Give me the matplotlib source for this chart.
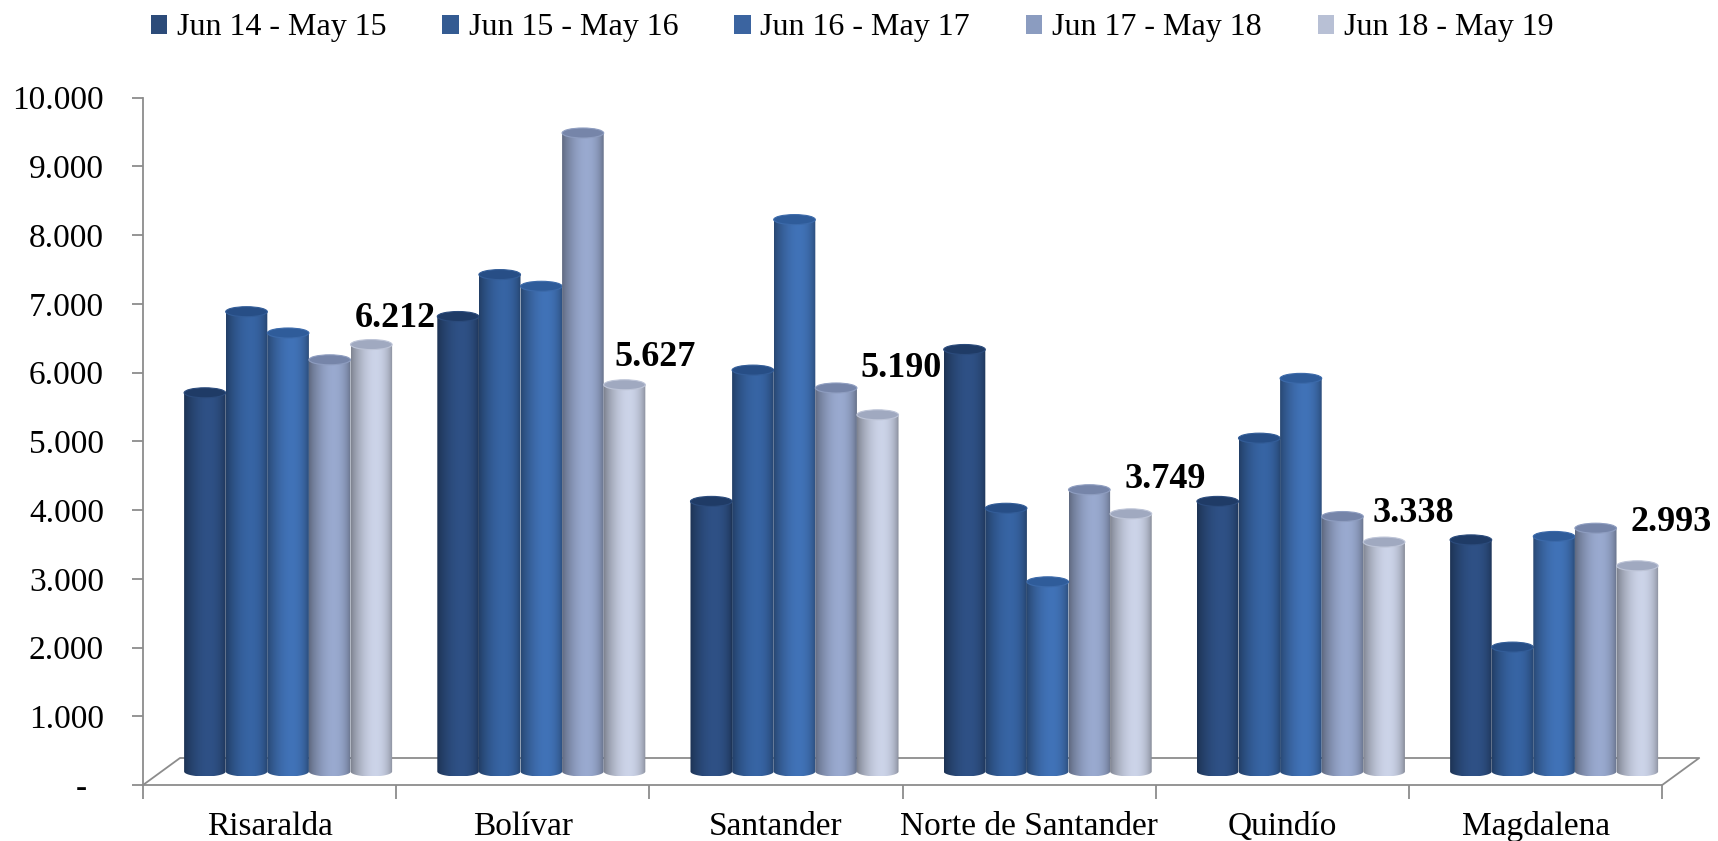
import numpy as np
import matplotlib
matplotlib.use("Agg")
import matplotlib.pyplot as plt
from matplotlib.patches import Ellipse, PathPatch, Patch
from matplotlib.path import Path
from matplotlib.ticker import FuncFormatter, FixedLocator

plt.rcParams['font.family'] = ['Liberation Serif', 'DejaVu Serif']

departments = ["Risaralda", "Bolívar", "Santander", "Norte de Santander", "Quindío", "Magdalena"]
periods = ["Jun 14 - May 15", "Jun 15 - May 16", "Jun 16 - May 17", "Jun 17 - May 18", "Jun 18 - May 19"]

jun14_may15 = [5510, 6620, 3930, 6140, 3930, 3370]
jun15_may16 = [6690, 7230, 5840, 3830, 4850, 1810]
jun16_may17 = [6380, 7060, 8030, 2760, 5720, 3420]
jun17_may18 = [5990, 9290, 5580, 4100, 3710, 3540]
jun18_may19 = [6212, 5627, 5190, 3749, 3338, 2993]
series = [jun14_may15, jun15_may16, jun16_may17, jun17_may18, jun18_may19]

body_colors = ["#2B4B7C", "#335D98", "#3C6AAA", "#8E9DC0", "#BDC4D7"]
top_colors = ["#1F3B66", "#274E86", "#2F5C9A", "#7685A9", "#A0A9C0"]
legend_colors = ["#2C4B79", "#345B92", "#3B64A0", "#8B9CC0", "#B8C0D5"]

# pixel offsets of the value labels from the top of the last cylinder
label_offsets = [(24, 26), (31, 27), (23, 46), (34, 34), (29, 29), (34, 43)]

W, H = 1718, 841
fig = plt.figure(figsize=(W / 100, H / 100), dpi=100)
fig.patch.set_facecolor("white")

left_px, front_px, px_per_cat, px_per_1000 = 143, 785, 253.2, 68.73
ax = fig.add_axes([left_px / W, (H - front_px) / H, 1 - left_px / W, front_px / H])
ax.set_facecolor("none")
xmax = (W - left_px) / px_per_cat
ymax = front_px / px_per_1000 * 1000

# floor depth in data units
depth_x = 37 / px_per_cat
depth_y = 27 / px_per_1000 * 1000
mid_x, mid_y = depth_x / 2, depth_y / 2

grey = "#8C8C8C"
ax.plot([0, depth_x, 6 + depth_x, 6], [0, depth_y, depth_y, 0],
        color=grey, lw=1.3, clip_on=False, zorder=1)

n = len(series)
bar_w = 41.6 / px_per_cat
pad = (1 - n * bar_w) / 2
ell_h = 10 / px_per_1000 * 1000

t = np.linspace(0, 1, 200)
shade = 0.66 + 0.42 * np.sin(np.pi * t ** 1.3) ** 0.6


def cylinder(x0, value, body, top, z):
    base = mid_y
    top_y = base + value
    cx = x0 + bar_w / 2
    a, b = bar_w / 2, ell_h / 2
    ang = np.linspace(np.pi, 2 * np.pi, 40)
    arc = np.column_stack([cx + a * np.cos(ang), base + b * np.sin(ang)])
    verts = np.vstack([[x0, top_y], [x0, base], arc, [x0 + bar_w, base], [x0 + bar_w, top_y], [x0, top_y]])
    codes = [Path.MOVETO] + [Path.LINETO] * (len(verts) - 2) + [Path.CLOSEPOLY]
    clip = PathPatch(Path(verts, codes), facecolor="none", edgecolor="none", transform=ax.transData)
    ax.add_patch(clip)
    rgb = np.array(matplotlib.colors.to_rgb(body))
    grad = np.clip(rgb[None, :] * shade[:, None], 0, 1)[None, :, :]
    im = ax.imshow(grad, extent=(x0, x0 + bar_w, base - b, top_y), aspect="auto",
                   interpolation="bilinear", zorder=z, clip_on=True)
    im.set_clip_path(clip)
    ax.add_patch(Ellipse((cx, top_y), bar_w, ell_h, facecolor=top, edgecolor=body,
                         lw=0.8, zorder=z + 0.5))
    return cx, top_y


for ci, dep in enumerate(departments):
    for si in range(n):
        x0 = ci + mid_x + pad + si * bar_w
        cx, ty = cylinder(x0, series[si][ci], body_colors[si], top_colors[si], 2 + si)
        if si == n - 1:
            v = series[si][ci]
            ax.annotate(f"{v:,}".replace(",", "."), (cx, ty), xytext=label_offsets[ci],
                        textcoords="offset pixels", ha="center", va="center",
                        fontsize=26, fontweight="bold", zorder=20, annotation_clip=False)

ax.set_xlim(0, xmax)
ax.set_ylim(0, ymax)

for side in ["top", "right"]:
    ax.spines[side].set_visible(False)
for side in ["left", "bottom"]:
    ax.spines[side].set_color(grey)
    ax.spines[side].set_linewidth(1.3)
ax.spines["left"].set_bounds(0, 10000)
ax.spines["bottom"].set_bounds(0, 6)

ax.set_yticks(np.arange(0, 10001, 1000))
ax.yaxis.set_major_formatter(FuncFormatter(
    lambda v, p: "-  " if v == 0 else f"{int(v):,}".replace(",", ".")))
ax.tick_params(axis="y", length=8, width=1.3, color=grey, pad=20, labelsize=24)

ax.xaxis.set_major_locator(FixedLocator(range(7)))
ax.xaxis.set_minor_locator(FixedLocator([i + 0.5 for i in range(6)]))
ax.set_xticklabels([], minor=False)
ax.set_xticklabels(departments, minor=True)
ax.tick_params(axis="x", which="major", length=10, width=1.3, color=grey)
ax.tick_params(axis="x", which="minor", length=0, pad=19, labelsize=24)

handles = [Patch(facecolor=c, edgecolor="none") for c in legend_colors]
fig.legend(handles, periods, loc="center", bbox_to_anchor=(852 / W, 1 - 28 / H), ncol=5,
           frameon=False, fontsize=23, handlelength=0.52, handleheight=0.55,
           handletextpad=0.3, columnspacing=1.75)

fig.savefig("out.png", dpi=100)
